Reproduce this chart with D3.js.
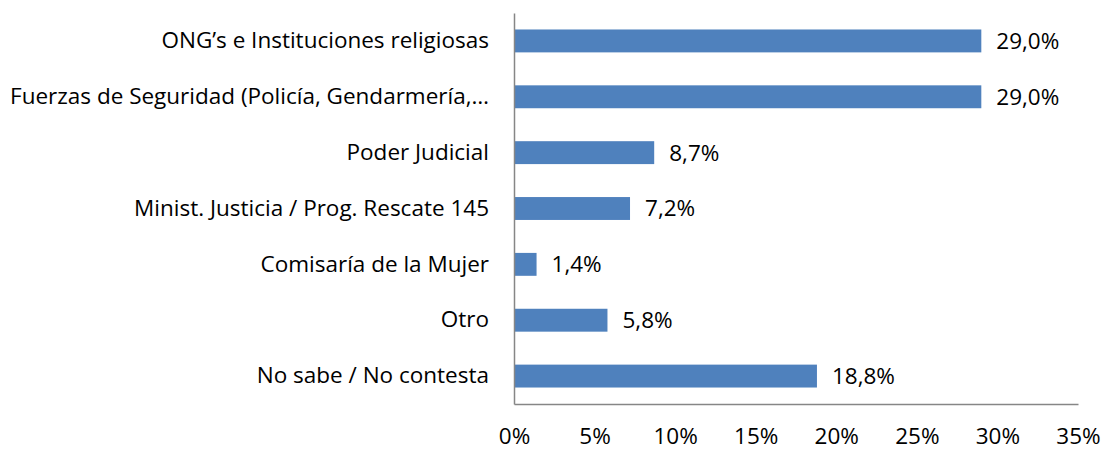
<!DOCTYPE html>
<html>
<head>
<meta charset="utf-8">
<script src="https://cdn.jsdelivr.net/npm/d3@7"></script>
<style>
  body { margin: 0; background: #fff; }
  text { font-family: "Open Sans", Lato, sans-serif; fill: #000; }
</style>
</head>
<body>
<div id="chart"></div>
<script>
// data
var categories = [
  "ONG\u2019s e Instituciones religiosas",
  "Fuerzas de Seguridad (Policía, Gendarmería,…",
  "Poder Judicial",
  "Minist. Justicia / Prog. Rescate 145",
  "Comisaría de la Mujer",
  "Otro",
  "No sabe / No contesta"
];
var values = [29.0, 29.0, 8.7, 7.2, 1.4, 5.8, 18.8];
var tickValues = [0, 5, 10, 15, 20, 25, 30, 35];

var fontSize = "22.5px";
var margin = {top: 13, right: 27, bottom: 46, left: 514},
    width = 1105 - margin.left - margin.right,
    height = 450 - margin.top - margin.bottom;

var svg = d3.select("#chart")
  .append("svg")
    .attr("width", 1105)
    .attr("height", 450)
  .append("g")
    .attr("transform", "translate(" + margin.left + "," + margin.top + ")");

var x = d3.scaleLinear()
    .domain([0, 35])
    .range([0, width]);

var y = d3.scaleBand()
    .domain(categories)
    .range([0, height])
    .paddingInner(0.59)
    .paddingOuter(0.295);

var data = categories.map(function (c, i) { return {label: c, value: values[i]}; });

// bars
svg.selectAll("rect.bar")
  .data(data)
  .enter()
  .append("rect")
    .attr("class", "bar")
    .attr("x", x(0))
    .attr("y", function (d) { return y(d.label); })
    .attr("width", function (d) { return x(d.value) - x(0); })
    .attr("height", y.bandwidth())
    .style("fill", "#4F81BD");

// value labels
svg.selectAll("text.val")
  .data(data)
  .enter()
  .append("text")
    .attr("class", "val")
    .attr("x", function (d) { return x(d.value) + 15; })
    .attr("y", function (d) { return y(d.label) + y.bandwidth() / 2; })
    .attr("dy", "0.35em")
    .style("font-size", fontSize)
    .text(function (d) { return d3.format(".1f")(d.value).replace(".", ",") + "%"; });

// y axis (category labels)
var yAxis = svg.append("g")
    .call(d3.axisLeft(y).tickSize(0).tickPadding(25));
yAxis.select(".domain").attr("stroke", "#868686").attr("stroke-width", 1.5);
yAxis.selectAll("text").style("font-size", fontSize).style("font-family", "'Open Sans', Lato, sans-serif");

// x axis
var xAxis = svg.append("g")
    .attr("transform", "translate(0," + height + ")")
    .call(d3.axisBottom(x).tickValues(tickValues).tickSize(0).tickPadding(24)
      .tickFormat(function (d) { return d + "%"; }));
xAxis.select(".domain").attr("stroke", "#868686").attr("stroke-width", 1.5);
xAxis.selectAll("text").style("font-size", fontSize).style("font-family", "'Open Sans', Lato, sans-serif");
</script>
</body>
</html>
